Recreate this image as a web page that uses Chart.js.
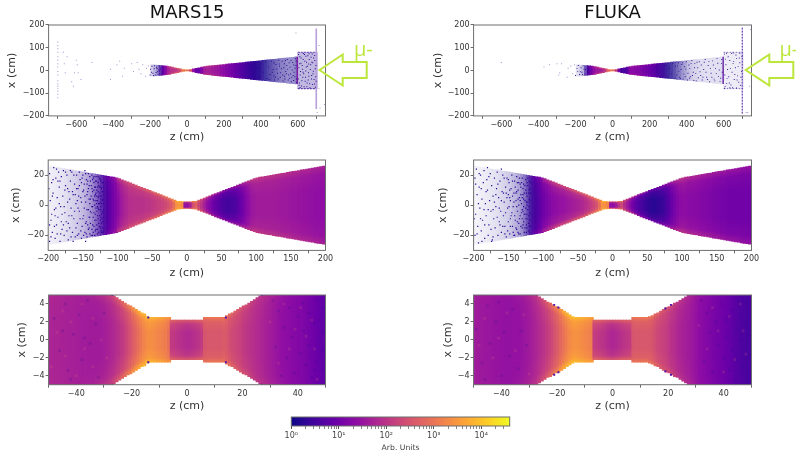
<!DOCTYPE html>
<html><head><meta charset="utf-8">
<script src="https://cdn.jsdelivr.net/npm/chart.js@4"></script>
<style>
html,body{margin:0;padding:0;background:#fff;width:796px;height:453px;overflow:hidden}
#stage{position:relative;width:796px;height:453px;overflow:hidden;filter:blur(0.4px)}
canvas{position:absolute}
svg{position:absolute;left:0;top:0}
</style></head><body><div id="stage"></div>
<script>
// ---------- data ----------
const panelTitles = ['MARS15','FLUKA'];
const xTitle = 'z (cm)', yTitle = 'x (cm)', barTitle = 'Arb. Units', beamLabel = 'μ-';

const zTickTop = [-600,-400,-200,0,200,400,600], xTickTop = [-200,-100,0,100,200];
const zTickMid = [-200,-150,-100,-50,0,50,100,150,200], xTickMid = [-20,0,20];
const zTickLow = [-40,-20,0,20,40], xTickLow = [-4,-2,0,2,4];
const barTicks = [1,2,3,4,5,6,7,8,9,10,20,30,40,50,60,70,80,90,100,200,300,400,500,600,700,800,900,1000,2000,3000,4000,5000,6000,7000,8000,9000,10000,20000,30000];
const barDecades = [1,10,100,1000,10000];
const barLabels = ['10⁰','10¹','10²','10³','10⁴'];
const barRange = [1,39800];

const plasmaStops = ['#0d0887','#41049d','#6a00a8','#8f0da4','#b12a90','#cc4778','#e16462','#f2844b','#fca636','#fcce25','#f0f921'];

// column centres (cm)
const zTop = [-742.5,-727.5,-712.5,-697.5,-682.5,-667.5,-652.5,-637.5,-622.5,-607.5,-592.5,-577.5,-562.5,-547.5,-532.5,-517.5,-502.5,-487.5,-472.5,-457.5,-442.5,-427.5,-412.5,-397.5,-382.5,-367.5,-352.5,-337.5,-322.5,-307.5,-292.5,-277.5,-262.5,-247.5,-232.5,-217.5,-202.5,-187.5,-172.5,-157.5,-142.5,-127.5,-112.5,-97.5,-82.5,-67.5,-52.5,-37.5,-22.5,-7.5,7.5,22.5,37.5,52.5,67.5,82.5,97.5,112.5,127.5,142.5,157.5,172.5,187.5,202.5,217.5,232.5,247.5,262.5,277.5,292.5,307.5,322.5,337.5,352.5,367.5,382.5,397.5,412.5,427.5,442.5,457.5,472.5,487.5,502.5,517.5,532.5,547.5,562.5,577.5,592.5,607.5,622.5,637.5,652.5,667.5,682.5,697.5,712.5,727.5,742.5];
const zMid = [-198,-194,-190,-186,-182,-178,-174,-170,-166,-162,-158,-154,-150,-146,-142,-138,-134,-130,-126,-122,-118,-114,-110,-106,-102,-98,-94,-90,-86,-82,-78,-74,-70,-66,-62,-58,-54,-50,-46,-42,-38,-34,-30,-26,-22,-18,-14,-10,-6,-2,2,6,10,14,18,22,26,30,34,38,42,46,50,54,58,62,66,70,74,78,82,86,90,94,98,102,106,110,114,118,122,126,130,134,138,142,146,150,154,158,162,166,170,174,178,182,186,190,194,198];
const zLow = [-49.5,-48.5,-47.5,-46.5,-45.5,-44.5,-43.5,-42.5,-41.5,-40.5,-39.5,-38.5,-37.5,-36.5,-35.5,-34.5,-33.5,-32.5,-31.5,-30.5,-29.5,-28.5,-27.5,-26.5,-25.5,-24.5,-23.5,-22.5,-21.5,-20.5,-19.5,-18.5,-17.5,-16.5,-15.5,-14.5,-13.5,-12.5,-11.5,-10.5,-9.5,-8.5,-7.5,-6.5,-5.5,-4.5,-3.5,-2.5,-1.5,-0.5,0.5,1.5,2.5,3.5,4.5,5.5,6.5,7.5,8.5,9.5,10.5,11.5,12.5,13.5,14.5,15.5,16.5,17.5,18.5,19.5,20.5,21.5,22.5,23.5,24.5,25.5,26.5,27.5,28.5,29.5,30.5,31.5,32.5,33.5,34.5,35.5,36.5,37.5,38.5,39.5,40.5,41.5,42.5,43.5,44.5,45.5,46.5,47.5,48.5,49.5];

// half widths of the filled envelope (cm)
const hwTop = [0,0,0,0,0,0,0,0,0,0,0,0,0,0,0,0,0,0,0,0,0,0,0,0,0,0,0,0,0,0,0,0,0,0,0,0,0,25,24,22.8,21.4,20.2,19,17.2,14.6,12,9.3,6.6,4,2.2,2.2,4,6.6,9.3,12,14.6,17.2,19,20.2,21.4,22.6,23.8,25,26.2,27.5,28.8,30,31.3,32.6,33.9,35.1,36.4,37.7,39,40.2,41.5,42.8,44,45.3,46.6,47.9,49.2,50.4,51.7,53,54.2,55.5,56.8,58.1,59.4,80,80,80,80,80,80,80,0,0,0];
const hwMid = [25.9,25.6,25.3,25,24.6,24.3,24,23.7,23.4,23,22.7,22.4,22.1,21.8,21.4,21.1,20.8,20.5,20.2,19.8,19.5,19.2,18.9,18.6,18.2,17.6,16.9,16.2,15.5,14.8,14.1,13.3,12.6,11.9,11.2,10.5,9.8,9.1,8.4,7.7,7,6.2,5.5,4.8,4.1,3.4,2.6,2.5,2.3,2.2,2.2,2.3,2.5,2.6,3.4,4.1,4.8,5.5,6.2,7,7.7,8.4,9.1,9.8,10.5,11.2,11.9,12.6,13.3,14.1,14.8,15.5,16.2,16.9,17.6,18.2,18.6,18.9,19.2,19.5,19.8,20.2,20.5,20.8,21.1,21.4,21.8,22.1,22.4,22.7,23,23.4,23.7,24,24.3,24.6,25,25.3,25.6,25.9];
const hwLowM = [5,5,5,5,5,5,5,5,5,5,5,5,5,5,5,5,5,5,5,5,5,5,5,4.9,4.7,4.5,4.3,4.1,3.9,3.8,3.6,3.4,3.2,3,2.9,2.6,2.5,2.5,2.5,2.5,2.5,2.5,2.5,2.5,2.2,2.2,2.2,2.2,2.2,2.2,2.2,2.2,2.2,2.2,2.2,2.2,2.5,2.5,2.5,2.5,2.5,2.5,2.5,2.5,2.7,2.9,3,3.2,3.4,3.6,3.8,3.9,4.1,4.3,4.5,4.7,4.9,5,5,5,5,5,5,5,5,5,5,5,5,5,5,5,5,5,5,5,5,5,5,5];
const hwLowF = [5,5,5,5,5,5,5,5,5,5,5,5,5,5,5,5,5,5,5,5,5,5,5,4.8,4.6,4.4,4.2,4.1,3.9,3.7,3.6,3.4,3.2,3,2.8,2.6,2.5,2.5,2.5,2.5,2.5,2.5,2.5,2.2,2.2,2.2,2.2,2.2,2.2,2.2,2.2,2.2,2.2,2.2,2.2,2.2,2.2,2.5,2.5,2.5,2.5,2.5,2.5,2.6,2.7,2.9,3,3.2,3.4,3.6,3.7,3.9,4.1,4.2,4.4,4.6,4.8,5,5,5,5,5,5,5,5,5,5,5,5,5,5,5,5,5,5,5,5,5,5,5];

// log10(counts) on the axis of each column
const logTopM = [0,0,0,0,0,0,0,0,0,0,0,0,0,0,0,0,0,0,0,0,0,0,0,0,0,0,0,0,0,0,0,0,0,0,0,0,0,.1,.15,.2,.4,.8,1.3,1.7,1.95,2,2.1,2.3,2.9,3,2.9,2.4,1.4,.9,.9,1.2,1.6,1.7,1.65,1.6,1.55,1.5,1.4,1.3,1.2,1.1,1,.9,.8,.7,.6,.5,.4,.35,.3,.25,.2,.2,.1,.1,.1,.1,.1,.1,.1,.1,.1,.1,.1,.1,.15,.15,.15,.15,.15,.15,.15,0,0,0];
const rimTopM = [0,0,0,0,0,0,0,0,0,0,0,0,0,0,0,0,0,0,0,0,0,0,0,0,0,0,0,0,0,0,0,0,0,0,0,0,0,.1,.15,.2,.4,.9,1.5,2,2.4,2.5,2.6,2.8,3.2,3.3,3.2,2.7,1.7,1.2,1.2,1.5,1.9,2,1.95,1.85,1.8,1.7,1.6,1.5,1.4,1.3,1.15,1,.9,.8,.7,.6,.5,.4,.35,.3,.25,.2,.1,.1,.1,.1,.1,.1,.1,.1,.1,.1,.1,.1,.3,.3,.3,.3,.3,.3,.3,0,0,0];
const densTopM = [0,0,0,0,0,0,0,0,0,0,0,0,0,0,0,0,0,0,0,0,0,0,0,0,0,0,0,0,0,0,0,0,0,0,0,0,0,.2,.3,.45,.8,1,1,1,1,1,1,1,1,1,1,1,1,1,1,1,1,1,1,1,1,1,1,1,1,1,1,1,1,1,1,1,1,1,1,.97,.95,.88,.82,.75,.7,.65,.6,.55,.5,.5,.45,.45,.45,.5,.28,.28,.28,.28,.28,.28,.28,0,0,0];
const logTopF = [0,0,0,0,0,0,0,0,0,0,0,0,0,0,0,0,0,0,0,0,0,0,0,0,0,0,0,0,0,0,0,0,0,0,0,0,0,.05,.05,.1,.3,.6,1,1.35,1.55,1.6,1.7,2,2.7,3,2.8,2,1,.5,.5,.7,1.25,1.3,1.25,1.2,1.15,1.05,1,.9,.8,.7,.55,.45,.35,.25,.15,.12,.1,.1,.1,.1,.1,.1,.1,.1,.1,.1,.1,.1,.1,.1,.1,.1,.1,.1,.1,.1,.1,.1,.1,.1,.1,0,0,0];
const rimTopF = [0,0,0,0,0,0,0,0,0,0,0,0,0,0,0,0,0,0,0,0,0,0,0,0,0,0,0,0,0,0,0,0,0,0,0,0,0,.05,.05,.1,.3,.7,1.2,1.7,2,2.1,2.2,2.5,3,3.3,3.1,2.4,1.3,.8,.8,1,1.5,1.6,1.55,1.5,1.4,1.3,1.2,1.1,1,.9,.7,.6,.45,.3,.2,.15,.1,.1,.1,.1,.1,.1,.1,.1,.1,.1,.1,.1,.1,.1,.1,.1,.1,.1,.1,.1,.1,.1,.1,.1,.1,0,0,0];
const densTopF = [0,0,0,0,0,0,0,0,0,0,0,0,0,0,0,0,0,0,0,0,0,0,0,0,0,0,0,0,0,0,0,0,0,0,0,0,0,.12,.18,.28,.7,1,1,1,1,1,1,1,1,1,1,1,1,1,1,1,1,1,1,1,1,1,1,1,1,1,1,.97,.95,.9,.85,.78,.7,.6,.52,.42,.36,.27,.22,.18,.17,.14,.14,.13,.13,.13,.13,.13,.13,.14,.08,.08,.08,.08,.08,.08,.08,0,0,0];

const logMidM = [.1,.1,.1,.1,.12,.12,.15,.15,.18,.2,.2,.22,.25,.25,.3,.3,.35,.4,.45,.5,.55,.65,.8,1,1.15,1.35,1.55,1.7,1.8,1.9,1.92,1.95,1.95,1.95,1.95,2,2,2.05,2.1,2.15,2.2,2.25,2.35,2.45,2.6,2.9,3.4,3.5,3.3,1.45,1.45,1.7,2.4,2.7,2.3,2,1.7,1.4,1.2,1,.85,.75,.65,.55,.5,.5,.55,.6,.7,.85,1,1.2,1.35,1.5,1.55,1.6,1.6,1.6,1.6,1.6,1.6,1.6,1.58,1.58,1.55,1.55,1.55,1.52,1.5,1.5,1.48,1.48,1.45,1.45,1.42,1.42,1.4,1.4,1.38,1.38];
const rimMidM = [.1,.1,.1,.1,.12,.12,.15,.15,.18,.2,.2,.22,.25,.25,.3,.3,.35,.4,.45,.5,.7,.9,1.1,1.3,1.5,2,2.1,2.2,2.3,2.4,2.4,2.45,2.5,2.5,2.55,2.6,2.65,2.7,2.75,2.8,2.85,2.9,3,3.1,3.25,3.45,3.8,3.8,3.6,2.5,2.5,2.8,3.2,3.2,2.8,2.6,2.4,2.2,2,1.85,1.7,1.6,1.5,1.4,1.4,1.4,1.45,1.5,1.55,1.6,1.7,1.8,1.9,2,2.1,2.1,2.05,2.05,2,2,2,2,1.95,1.95,1.95,1.9,1.9,1.9,1.85,1.85,1.85,1.8,1.8,1.8,1.8,1.75,1.75,1.75,1.7,1.7];
const densMidM = [.07,.07,.08,.09,.1,.11,.13,.15,.17,.19,.21,.24,.27,.31,.36,.42,.5,.6,.72,.85,.95,1,1,1,1,1,1,1,1,1,1,1,1,1,1,1,1,1,1,1,1,1,1,1,1,1,1,1,1,1,1,1,1,1,1,1,1,1,1,1,1,1,1,1,1,1,1,1,1,1,1,1,1,1,1,1,1,1,1,1,1,1,1,1,1,1,1,1,1,1,1,1,1,1,1,1,1,1,1,1];
const logMidF = [.05,.05,.05,.05,.05,.05,.05,.05,.05,.05,.05,.08,.08,.1,.1,.12,.15,.2,.25,.3,.35,.45,.55,.7,.85,1,1.1,1.2,1.3,1.35,1.4,1.45,1.45,1.5,1.55,1.6,1.65,1.7,1.75,1.8,1.9,2,2.15,2.3,2.5,2.9,3.4,3.4,3.2,1.4,1.4,1.6,2,2.3,1.9,1.6,1.3,1,.8,.65,.55,.45,.35,.3,.25,.25,.3,.35,.4,.55,.7,.9,1.05,1.2,1.3,1.35,1.35,1.32,1.3,1.3,1.28,1.25,1.22,1.2,1.18,1.15,1.12,1.1,1.08,1.05,1.05,1.02,1,1,1,1,1,1,1,1];
const rimMidF = [.05,.05,.05,.05,.05,.05,.05,.05,.05,.05,.05,.08,.08,.1,.1,.12,.15,.2,.25,.3,.5,.7,.9,1.1,1.3,1.7,1.8,1.95,2.05,2.15,2.2,2.25,2.3,2.35,2.4,2.45,2.5,2.55,2.6,2.65,2.7,2.8,2.9,3,3.2,3.4,3.8,3.8,3.5,2.4,2.4,2.7,3,3,2.6,2.3,2.1,1.9,1.7,1.5,1.35,1.25,1.15,1.05,1,1,1.05,1.15,1.25,1.35,1.45,1.6,1.7,1.85,1.95,2,1.9,1.85,1.8,1.8,1.75,1.75,1.7,1.7,1.65,1.65,1.6,1.6,1.6,1.55,1.55,1.5,1.5,1.5,1.5,1.5,1.45,1.45,1.45,1.45];
const densMidF = [.05,.05,.06,.07,.08,.09,.1,.11,.12,.14,.16,.18,.2,.23,.27,.31,.36,.44,.55,.7,.88,.97,1,1,1,1,1,1,1,1,1,1,1,1,1,1,1,1,1,1,1,1,1,1,1,1,1,1,1,1,1,1,1,1,1,1,1,1,1,1,1,1,1,1,1,1,1,1,1,1,1,1,1,1,1,1,1,1,1,1,1,1,1,1,1,1,1,1,1,1,1,1,1,1,1,1,1,1,1,1];

const logLowM = [1.75,1.75,1.73,1.73,1.72,1.7,1.7,1.68,1.68,1.66,1.65,1.64,1.62,1.62,1.6,1.6,1.6,1.6,1.6,1.62,1.65,1.7,1.75,1.8,1.88,1.95,2.05,2.15,2.3,2.45,2.6,2.75,2.9,3.05,3.2,3.3,3.35,3.35,3.3,3.25,3.2,3.15,3.1,2.95,2.1,2.05,2,1.95,1.9,1.85,1.82,1.85,1.9,1.95,2,2.1,2.5,2.55,2.55,2.55,2.55,2.55,2.55,2.6,2.55,2.45,2.35,2.3,2.25,2.2,2.1,2.05,2,1.95,1.9,1.85,1.8,1.75,1.7,1.65,1.6,1.55,1.5,1.45,1.4,1.38,1.35,1.3,1.28,1.25,1.2,1.2,1.15,1.1,1.05,1,.95,.9,.85,.8];
const rimLowM = [1.8,1.8,1.78,1.76,1.75,1.74,1.72,1.72,1.7,1.7,1.68,1.68,1.68,1.7,1.7,1.72,1.72,1.78,1.82,1.88,1.95,2.05,2.15,2.3,2.45,2.6,2.75,2.9,3.05,3.2,3.4,3.55,3.7,3.8,3.85,3.9,3.9,3.85,3.8,3.75,3.7,3.65,3.55,3.45,2.75,2.7,2.65,2.6,2.6,2.55,2.55,2.6,2.6,2.65,2.7,2.75,3,3,3.05,3.05,3.05,3.05,3.05,3.05,3,2.9,2.8,2.7,2.6,2.55,2.45,2.4,2.3,2.2,2.1,2.05,2,1.95,1.85,1.8,1.72,1.68,1.6,1.55,1.5,1.45,1.4,1.35,1.3,1.28,1.25,1.22,1.18,1.12,1.08,1.02,.98,.92,.88,.82];
const logLowF = [1.6,1.58,1.56,1.55,1.53,1.52,1.5,1.48,1.47,1.46,1.45,1.44,1.44,1.44,1.45,1.45,1.45,1.48,1.52,1.55,1.6,1.68,1.75,1.82,1.9,2,2.1,2.2,2.35,2.5,2.65,2.8,2.95,3.1,3.25,3.35,3.4,3.4,3.35,3.3,3.25,3.2,3.15,2.15,2.1,2.05,2,1.95,1.85,1.8,1.78,1.82,1.88,1.95,2,2.05,2.1,2.5,2.55,2.55,2.55,2.55,2.55,2.55,2.5,2.4,2.3,2.25,2.2,2.15,2.05,1.95,1.9,1.8,1.75,1.7,1.65,1.6,1.55,1.5,1.42,1.35,1.3,1.25,1.2,1.15,1.1,1.05,1.02,1,.95,.9,.85,.78,.72,.68,.62,.6,.55,.55];
const rimLowF = [1.65,1.62,1.6,1.58,1.56,1.55,1.54,1.52,1.5,1.5,1.48,1.48,1.48,1.48,1.5,1.52,1.55,1.6,1.65,1.72,1.8,1.9,2,2.15,2.3,2.45,2.6,2.8,2.95,3.1,3.3,3.5,3.7,3.85,3.9,3.95,3.95,3.9,3.85,3.8,3.75,3.7,3.6,2.75,2.75,2.7,2.65,2.6,2.55,2.5,2.5,2.55,2.6,2.65,2.7,2.7,2.75,3,3.05,3.05,3.05,3.05,3.05,3,3,2.85,2.75,2.65,2.55,2.5,2.4,2.3,2.2,2.1,2,1.95,1.85,1.8,1.7,1.6,1.5,1.42,1.35,1.3,1.25,1.2,1.15,1.1,1.05,1.02,.98,.92,.88,.82,.75,.7,.65,.62,.58,.58];
const densLow = [1,1,1,1,1,1,1,1,1,1,1,1,1,1,1,1,1,1,1,1,1,1,1,1,1,1,1,1,1,1,1,1,1,1,1,1,1,1,1,1,1,1,1,1,1,1,1,1,1,1,1,1,1,1,1,1,1,1,1,1,1,1,1,1,1,1,1,1,1,1,1,1,1,1,1,1,1,1,1,1,1,1,1,1,1,1,1,1,1,1,1,1,1,1,1,1,1,1,1,1];

// individual sparse hits [z, x]
const paleTopM = [[-700,125],[-700,110],[-700,95],[-700,80],[-700,60],[-700,45],[-700,30],[-700,15],[-700,-5],[-700,-20],[-700,-45],[-700,-60],[-700,-70],[-700,-80],[-700,-90],[-700,-105],[-700,-120],[-670,80],[-650,60],[-665,30],[-600,45],[-595,25],[-610,-10],[-590,-10],[-660,-10],[-575,-40],[-625,-50],[-615,-70],[-515,35],[-415,5],[-415,-40],[-380,25],[-365,40],[-350,-25],[-340,10],[-300,30],[-290,-5],[-270,35],[-260,5],[-250,-15],[-240,25],[-225,-25],[-220,10],[-210,20],[590,165],[715,110],[715,-80],[720,-165],[705,-185],[750,185],[745,-150]];
const hitsTopM = [[-200,-20],[-198,5],[-190,18],[-185,-12],[-178,8],[-172,-20],[-165,14],[-160,-6],[-152,20],[-148,-15],[-145,5],[-193,-8],[-181,-22],[-176,21],[-168,-9],[-162,9],[-157,-17],[-155,2],[-150,-3],
[352,30],[365,-22],[378,12],[392,-30],[405,28],[412,-8],[425,38],[433,-35],[441,15],[450,-18],[458,40],[466,4],[474,-42],[482,26],[490,-12],[497,45],[505,-30],[512,8],[520,-46],[527,30],[535,-5],[543,48],[550,-20],[558,14],[565,-50],[572,35],[580,-8],[587,52],[592,-38],[590,22],[556,-34],[528,-26],[501,18],[470,-24],[445,-40],[575,-22],[545,5],
[462,-8],[471,33],[479,-30],[486,6],[494,-38],[499,28],[507,-10],[515,40],[518,-20],[524,12],[530,-38],[533,44],[539,-14],[541,22],[548,-42],[553,34],[561,-16],[563,44],[568,-30],[570,2],[577,-44],[578,24],[584,-28],[585,10],[591,40],[593,-52],
[604,70],[607,-65],[610,30],[613,-20],[618,55],[622,-45],[626,5],[630,75],[634,-72],[638,40],[642,-30],[646,15],[650,-55],[654,65],[658,-10],[662,48],[666,-76],[670,25],[674,-38],[678,72],[682,-15],[686,55],[690,-60],[694,8],[697,-28],[612,-75],[628,-8],[644,62],[660,-25],[676,36],[692,44],
[603,-38],[606,12],[609,-55],[611,60],[615,-5],[617,32],[620,-68],[624,22],[627,-30],[629,48],[632,-15],[636,70],[640,-48],[643,-2],[647,36],[649,-72],[652,18],[656,-42],[659,28],[661,74],[664,-58],[668,4],[672,58],[675,-22],[679,-62],[681,34],[684,-4],[688,-40],[691,66],[695,-74],[698,22],[699,-48]];
const paleTopF = [[-600,35],[-370,15],[-340,25],[-300,30],[-285,-10],[-275,30],[-290,-20],[-245,-30],[-240,10],[-225,20],[-215,-15],[-205,25],[721,-185],[730,-185],[745,180],[740,-70]];
const hitsTopF = [[-200,-22],[-192,8],[-185,22],[-178,-18],[-170,12],[-165,-8],[-158,20],[-150,-16],[-146,4],[-188,-4],[-174,-6],[-162,-18],[-155,6],
[270,-25],[282,22],[295,-30],[305,10],[318,-15],[325,32],[338,-34],[350,20],[358,-5],[366,-36],[378,34],[386,-16],[395,6],[404,-42],[412,24],[420,-28],[428,44],[436,-8],[444,30],[452,-46],[460,12],[468,38],[476,-22],[484,-42],[492,4],[500,48],[508,-30],[516,22],[524,-50],[532,-12],[540,42],[548,-38],[556,8],[564,52],[572,-26],[580,-48],[588,30],[592,-8],
[340,18],[347,-20],[355,34],[362,-30],[370,4],[374,26],[381,-38],[389,16],[392,-28],[398,38],[407,-12],[415,-34],[417,8],[424,30],[431,-22],[439,-44],[442,12],[449,-14],[456,36],[463,-32],[472,-6],[479,24],[488,-30],[495,36],[504,-8],[512,-40],[520,40],[528,8],[536,-30],[544,24],[552,-46],[560,-14],[568,32],[576,2],[584,-34],[590,48],
[604,72],[608,-70],[612,25],[618,-35],[624,60],[630,-55],[636,8],[642,75],[648,-76],[654,40],[660,-18],[666,68],[672,-42],[678,18],[684,55],[690,-65],[696,-4],[615,76],[633,-76],[651,77],[669,-77],[687,76],[605,-78],
[606,-20],[610,50],[616,-58],[621,4],[627,-28],[633,44],[639,-64],[645,-8],[651,30],[657,-40],[663,12],[669,52],[675,-24],[681,-52],[687,34],[693,-30],[698,62]];
const hitsMidM = [[-198,21],[-198,-24],[-197,3],[-196,-10],[-195,15],[-194,-18],[-193,8],[-192,25],[-191,-3],[-190,-22],[-189,18],[-188,-13],[-187,5],[-186,-8],[-185,22],[-184,12],[-183,-24],[-182,-1],[-181,19],[-180,-16],[-179,6],[-178,23],[-177,-20],[-176,-5],[-175,13],[-174,-11],[-173,20],[-172,2],[-171,-23],[-170,9],[-169,-15],[-168,16],[-167,-2],[-166,22],[-165,-18],[-164,7],[-163,-9],[-162,14],[-161,-21],[-160,1],[-159,20],[-158,-12],[-157,11],[-156,-19],[-155,-4],[-154,17],[-153,5],[-152,-22],[-151,-14],[-150,9],[-150,20],[-149,-7],[-148,14],[-147,-18],[-146,2],[-146,21],[-145,-11],[-144,7],[-144,-21],[-143,16],[-142,-3],[-142,11],[-141,-15],[-140,19],[-140,-8],[-139,4],[-138,-20],[-138,13],[-137,-1],[-136,9],[-136,-13],[-135,18],[-135,-18],[-134,-5],[-134,3],[-133,12],[-133,-10],[-132,7],[-132,16],[-131,-16],[-131,-2],[-130,1],[-130,10],[-129,-7],[-129,-19],[-128,15],[-128,5],[-127,-12],[-127,-3],[-126,8],[-126,18],[-125,-15],[-125,2],[-124,-8],[-124,12],[-123,-18],[-123,6],[-122,-4],[-122,15],[-121,9],[-121,-11],[-120,1],[-120,-17],[-195,-6],[-188,24],[-182,-19],[-176,10],[-170,-7],[-164,-24],[-158,3],[-152,15],[-146,-24],[-141,4],[-137,20],[-133,-20],[-129,-1],
[-199,11],[-196,-21],[-193,17],[-191,-14],[-189,-2],[-187,-19],[-184,1],[-183,16],[-180,-6],[-178,-13],[-175,22],[-173,-17],[-172,11],[-169,4],[-167,-21],[-165,9],[-163,20],[-162,-4],[-160,-15],[-159,11],[-157,-2],[-156,6],[-155,22],[-154,-9],[-153,-17],[-152,2],[-151,18],[-149,-20],[-149,10],[-148,-2],[-147,6],[-146,-12],[-145,17],[-145,-19],[-144,-3],[-143,9],[-143,-13],[-142,21],[-141,-8],[-141,13],[-140,1],[-140,-19],[-139,16],[-139,-12],[-138,6],[-138,-5],[-137,11],[-137,-16],[-136,-1],[-136,17],[-135,4],[-135,-8],[-134,-14],[-134,10],[-134,19],[-133,0],[-133,6],[-132,-6],[-132,-17],[-132,12],[-131,3],[-131,-10],[-131,19],[-130,-4],[-130,-13],[-130,6],[-130,16],[-129,-16],[-129,3],[-129,12],[-128,-9],[-128,-2],[-128,9],[-128,19],[-127,1],[-127,-18],[-127,13],[-127,6],[-126,-7],[-126,-14],[-126,1],[-126,12],[-125,-10],[-125,6],[-125,17],[-125,-3],[-124,-17],[-124,-1],[-124,4],[-124,16],[-123,-12],[-123,-6],[-123,1],[-123,11],[-122,-15],[-122,-9],[-122,3],[-122,9],[-121,-5],[-121,-18],[-121,4],[-121,15],[-120,-8],[-120,-3],[-120,7],[-120,12],
[-198,-13],[-194,6],[-190,-7],[-186,16],[-181,-11],[-177,-1],[-171,-12],[-168,23],[-166,-7],[-161,7],[-158,-20],[-155,13],[-150,-9],[-147,23],[-144,14],[-142,-16],[-139,-4],[-136,-20],[-134,15],[-131,8]];
const hitsMidF = [[-198,18],[-198,-20],[-197,-6],[-196,24],[-195,7],[-194,-14],[-193,-25],[-192,12],[-191,-2],[-190,20],[-189,-17],[-188,4],[-187,-10],[-186,15],[-185,23],[-184,-22],[-183,1],[-182,-7],[-181,17],[-180,10],[-179,-20],[-178,-13],[-177,3],[-176,21],[-175,-4],[-174,13],[-173,-23],[-172,6],[-171,-9],[-170,18],[-169,-15],[-168,-1],[-167,11],[-166,22],[-165,-20],[-164,5],[-163,-11],[-162,16],[-161,-4],[-160,-18],[-159,9],[-158,20],[-157,-7],[-156,2],[-155,-14],[-154,12],[-153,-21],[-152,18],[-151,-2],[-150,7],[-150,-11],[-149,15],[-148,-19],[-147,3],[-146,-7],[-146,11],[-145,20],[-144,-14],[-143,-1],[-142,8],[-142,-20],[-141,16],[-140,-10],[-139,3],[-138,19],[-138,-16],[-137,-4],[-136,10],[-135,-12],[-135,15],[-134,5],[-133,-19],[-133,-7],[-132,12],[-131,1],[-130,-15],[-130,18],[-129,7],[-129,-4],[-128,-11],[-128,14],[-127,-18],[-126,3],[-126,-6],[-125,10],[-125,17],[-124,-13],[-123,0],[-123,6],[-122,-9],[-122,13],[-121,-17],[-120,4],[-119,-5],[-119,11],[-190,-9],[-180,25],[-172,-3],[-160,24],[-148,5],
[-199,-9],[-195,-19],[-192,21],[-188,-24],[-185,-3],[-182,9],[-178,19],[-175,-16],[-172,-21],[-168,7],[-165,14],[-163,-2],[-160,3],[-158,-14],[-156,18],[-154,-5],[-153,8],[-151,-17],[-149,-1],[-148,10],[-147,-9],[-145,-5],[-144,16],[-143,-18],[-142,2],[-141,-7],[-140,12],[-139,-15],[-139,8],[-138,-1],[-137,15],[-137,-11],[-136,-18],[-136,4],[-135,0],[-134,-9],[-134,18],[-133,3],[-132,-14],[-132,7],[-131,-5],[-131,15],[-130,-9],[-130,5],[-129,-13],[-129,11],[-128,-1],[-128,4],[-127,8],[-127,-6],[-126,-15],[-126,13],[-125,-2],[-125,-9],[-124,2],[-124,8],[-124,-18],[-123,-6],[-123,-15],[-123,15],[-122,-3],[-122,2],[-122,18],[-121,-12],[-121,-7],[-121,8],[-120,-14],[-120,-1],[-120,10],[-120,16],[-119,-18],[-119,-10],[-119,3],[-118,-14],[-118,-6],[-118,8],[-118,15],
[-197,14],[-193,1],[-189,11],[-184,-13],[-179,-3],[-174,-24],[-170,2],[-166,-8],[-162,-13],[-157,8],[-155,-19],[-152,5],[-150,17],[-147,-14],[-144,6],[-141,-20],[-138,9],[-135,-19],[-133,14],[-130,-3]];
const hitsLowM = [[-27,5],[-27,-5],[-14,2.5],[-14,-2.5],[14,2.5],[14,-2.5],[27,5],[27,-5]];
const hitsLowF = [[-19.5,3.6],[-19.5,-3.6],[-21,3.9],[-21,-3.9],[19,3.5],[19,-3.5],[21,3.9],[21,-3.9]];
const darkCellsLowM = [[49,3.6],[49,0.9],[49,-1.2],[49,-3.2],[47,4.4],[47,-2.4],[46,1.8],[45,-4.2],[44,3],[44,-0.6],[43,-2.8],[42,4.1],[42,1],[41,-1.5],[40,2.6],[39,-3.7],[38,0.3],[37,3.6],[36,-2],[48,2.2],[48,-0.2],[46,-3.4],[35,1.4],[34,-4],[33,3.2],[32,-0.8],[31,4.4],[-48,2.4],[-46,-1.2],[-44,4],[-43,-3.4],[-41,0.6],[-39,2.8],[-38,-2.2],[-36,4.4],[-35,-0.4],[-33,1.8],[-32,-4.2],[-30,3],[-45,1],[-42,-4.4],[-37,0.2]];
const lightCellsLowM = [[-49,-3],[-47,0.8],[-45,3.2],[-44,-1.8],[-42,2],[-40,-4],[-38,4],[-37,-1],[-34,2.4],[-34,-3],[-31,0],[-29,-2],[30,2],[33,-2.6],[35,4],[37,-1],[39,1.2],[41,3.6],[43,0.4],[45,2.2],[46,-1],[47,-4.4]];
const darkCellsLowF = [[49,3],[49,0.6],[49,-1.8],[49,-4],[48,4.2],[48,1.6],[47,-0.8],[47,-3],[46,2.8],[46,0],[45,-2.2],[45,4.4],[44,1],[44,-4.4],[43,3.4],[43,-1.2],[42,-3.4],[41,0.4],[41,2.2],[40,-2],[39,4],[38,-0.6],[37,2],[36,-3.6],[35,0.8],[34,3],[33,-2.4],[32,4.4],[-49,1.2],[-47,-2.6],[-45,3.8],[-44,-0.4],[-42,2],[-40,-4],[-39,0.8],[-37,-1.8],[-36,3.4],[-34,-3.2],[-33,1],[-31,-0.6],[-46,-4.4],[-41,4.2]];
const lightCellsLowF = [[-48,-0.6],[-46,2.4],[-43,-2],[-41,0.2],[-38,3],[-35,-1.2],[-32,2.8],[-30,-3.8],[31,1.6],[34,-1],[36,3.6],[38,1],[40,-3.6],[42,2.6],[44,-2.2],[46,4],[47,1],[48,-1.6]];

// straight detector features [z1, x1, z2, x2]
const segsTopM = [[700,-170,700,185],[597,-60,597,60],[600,80,700,80],[600,-80,700,-80]];
const segsTopF = [[700,-190,700,190],[597,-60,597,60],[600,80,700,80],[600,-80,700,-80]];

// ---------- drawing ----------
const FONT = "'DejaVu Sans', sans-serif";
const stage = document.getElementById('stage');
const hex = h => [1,3,5].map(i => parseInt(h.substr(i,2),16));
const plasmaRgb = plasmaStops.map(hex);
const logMax = Math.log10(barRange[1]);
function colour(log, dens){
  const t = Math.min(1, Math.max(0, log/logMax)) * (plasmaRgb.length-1);
  const i = Math.min(plasmaRgb.length-2, Math.floor(t)), f = t-i;
  const c = plasmaRgb[i].map((v,k) => v + (plasmaRgb[i+1][k]-v)*f);
  const d = dens === undefined ? 1 : dens;
  return 'rgb(' + c.map(v => Math.round(255 + (v-255)*d)).join(',') + ')';
}
const frame = { id:'frame', afterDraw(ch){
  const a = ch.chartArea, c = ch.ctx;
  c.save(); c.strokeStyle='#6e6e6e'; c.lineWidth=1;
  c.strokeRect(a.left,a.top,a.right-a.left,a.bottom-a.top); c.restore();
}};
function axis(min,max,ticks,title,fit){
  return {
    type:'linear', min, max, offset:false,
    afterBuildTicks: s => { s.ticks = ticks.map(v => ({value:v})); },
    afterFit: fit,
    grid:{drawOnChartArea:false,drawTicks:true,tickLength:3,tickColor:'#444',tickWidth:0.8},
    border:{display:false},
    ticks:{autoSkip:false,maxRotation:0,padding:1,color:'#333',font:{family:FONT,size:8},
      callback:v => String(v).replace('-','−')},
    title:{display:true,text:title,color:'#333',padding:0,font:{family:FONT,size:11,lineHeight:1.2}}
  };
}
function panel(p){
  const cv = document.createElement('canvas');
  const left = p.labelX - 6.6, top = p.title ? 0 : p.plot[1]-6;
  const W = p.plot[2] + 16 - left, H = p.plot[3] + p.xBand - top;
  cv.width = Math.ceil(W); cv.height = Math.ceil(H);
  cv.style.width = cv.width+'px'; cv.style.height = cv.height+'px';
  cv.style.left = left+'px'; cv.style.top = top+'px';
  stage.appendChild(cv);
  const colW = (p.plot[2]-p.plot[0])/p.z.length + 0.7;
  const datasets = [{
    type:'bar', order:3, barThickness:colW, borderWidth:0,
    data:p.z.map((z,i) => ({x:z,y:[-p.hw[i],p.hw[i]]})),
    backgroundColor(ctx){
      if(ctx.type!=='data') return '#fff';
      const i = ctx.dataIndex, y = ctx.chart.scales.y;
      if(!y) return '#fff';
      const d = p.dens[i], hw = p.hw[i], c0 = p.log[i], r = p.rim[i];
      if(!hw) return 'rgba(0,0,0,0)';
      const y0 = y.getPixelForValue(hw), y1 = y.getPixelForValue(-hw);
      if(!isFinite(y0) || !isFinite(y1)) return '#fff';
      const g = ctx.chart.ctx.createLinearGradient(0,y0,0,y1);
      const mid = c0 + (r-c0)*0.3;
      g.addColorStop(0,colour(r,d)); g.addColorStop(0.1,colour(mid,d)); g.addColorStop(0.32,colour(c0,d));
      g.addColorStop(0.68,colour(c0,d)); g.addColorStop(0.9,colour(mid,d)); g.addColorStop(1,colour(r,d));
      return g;
    }
  }];
  (p.segs||[]).forEach((s,i) => datasets.push({
    type:'line', order:2, data:[{x:s[0],y:s[1]},{x:s[2],y:s[3]}], pointRadius:0, fill:false,
    borderColor:p.segStyle[i].c, borderWidth:p.segStyle[i].w, borderDash:p.segStyle[i].d||[]
  }));
  (p.hits||[]).forEach(h => datasets.push({
    type:'scatter', order:1, data:h.list.map(q => ({x:q[0],y:q[1]})), pointStyle:'rect',
    pointRadius:h.r, pointBorderWidth:0, borderWidth:0, backgroundColor:h.c, pointBackgroundColor:h.c
  }));
  const yw = p.plot[0]-left, xh = p.xBand;
  new Chart(cv,{
    data:{datasets},
    options:{
      responsive:false, animation:false, events:[],
      layout:{padding:{left:0,right:15.5,top:p.title?0:6,bottom:0}},
      plugins:{legend:{display:false},tooltip:{enabled:false},
        title:{display:!!p.title,text:p.title||'',color:'#111',fullSize:false,
          font:{family:FONT,size:18,weight:'normal',lineHeight:1.2},padding:{top:3,bottom:0.4}}},
      scales:{
        x:axis(p.zr[0],p.zr[1],p.zt,xTitle,s=>{s.height=xh;}),
        y:axis(p.xr[0],p.xr[1],p.xt,yTitle,s=>{s.width=yw;})
      }
    },
    plugins:[frame]
  });
}
const indigo='#2c0896', pale='rgba(90,40,170,0.5)', cellDark='rgba(50,8,150,0.2)', cellLight='rgba(235,110,120,0.18)', rimDot='#5212a6';
const colL=[48.3,324.5], colR=[474,750.7];
const rowA=[25,115], rowB=[159.8,249.4], rowC=[295.3,385];
const styM=[{c:'#b79fdc',w:1.6},{c:'#7a1ea6',w:1.6},{c:'rgba(50,10,150,.7)',w:1.2,d:[2,1]},{c:'rgba(50,10,150,.7)',w:1.2,d:[2,1]}];
const styF=[{c:'#4a18a0',w:1,d:[2,1]},{c:'#5a12a0',w:1.3},{c:'rgba(50,10,150,.55)',w:1,d:[1.5,1.5]},{c:'rgba(50,10,150,.55)',w:1,d:[1.5,1.5]}];
panel({title:panelTitles[0],labelX:12.3,plot:[colL[0],rowA[0],colL[1],rowA[1]],xBand:28.1,z:zTop,hw:hwTop,log:logTopM,rim:rimTopM,dens:densTopM,zr:[-750,750],xr:[-200,200],zt:zTickTop,xt:xTickTop,segs:segsTopM,segStyle:styM,hits:[{list:paleTopM,r:0.7,c:pale},{list:hitsTopM,r:0.7,c:indigo}]});
panel({title:panelTitles[1],labelX:439,plot:[colR[0],rowA[0],colR[1],rowA[1]],xBand:28.1,z:zTop,hw:hwTop,log:logTopF,rim:rimTopF,dens:densTopF,zr:[-750,750],xr:[-200,200],zt:zTickTop,xt:xTickTop,segs:segsTopF,segStyle:styF,hits:[{list:paleTopF,r:0.7,c:pale},{list:hitsTopF,r:0.65,c:indigo}]});
panel({labelX:16.7,plot:[colL[0],rowB[0],colL[1],rowB[1]],xBand:29.6,z:zMid,hw:hwMid,log:logMidM,rim:rimMidM,dens:densMidM,zr:[-200,200],xr:[-30,30],zt:zTickMid,xt:xTickMid,hits:[{list:hitsMidM,r:0.85,c:indigo}]});
panel({labelX:444,plot:[colR[0],rowB[0],colR[1],rowB[1]],xBand:29.6,z:zMid,hw:hwMid,log:logMidF,rim:rimMidF,dens:densMidF,zr:[-200,200],xr:[-30,30],zt:zTickMid,xt:xTickMid,hits:[{list:hitsMidF,r:0.85,c:indigo}]});
panel({labelX:22.3,plot:[colL[0],rowC[0],colL[1],rowC[1]],xBand:28.3,z:zLow,hw:hwLowM,log:logLowM,rim:rimLowM,dens:densLow,zr:[-50,50],xr:[-5,5],zt:zTickLow,xt:xTickLow,hits:[{list:hitsLowM,r:1.4,c:rimDot},{list:darkCellsLowM,r:1.9,c:cellDark},{list:lightCellsLowM,r:1.9,c:cellLight}]});
panel({labelX:449,plot:[colR[0],rowC[0],colR[1],rowC[1]],xBand:28.3,z:zLow,hw:hwLowF,log:logLowF,rim:rimLowF,dens:densLow,zr:[-50,50],xr:[-5,5],zt:zTickLow,xt:xTickLow,hits:[{list:hitsLowF,r:1.4,c:rimDot},{list:darkCellsLowF,r:1.9,c:cellDark},{list:lightCellsLowF,r:1.9,c:cellLight}]});

// colour bar
(function(){
  const cv=document.createElement('canvas');
  cv.width=260; cv.height=48; cv.style.left='270px'; cv.style.top='405px';
  cv.style.width='260px'; cv.style.height='48px'; stage.appendChild(cv);
  new Chart(cv,{
    type:'bar',
    data:{labels:[''],datasets:[{data:[barRange],borderWidth:0,barPercentage:1,categoryPercentage:1,
      backgroundColor(ctx){
        const a=ctx.chart.chartArea; if(!a) return '#000';
        const g=ctx.chart.ctx.createLinearGradient(a.left,0,a.right,0);
        plasmaStops.forEach((h,i)=>g.addColorStop(i/(plasmaStops.length-1),h));
        return g;
      }}]},
    options:{
      indexAxis:'y',responsive:false,animation:false,events:[],
      layout:{padding:{left:21.3,right:20.3,top:12,bottom:0}},
      plugins:{legend:{display:false},tooltip:{enabled:false}},
      scales:{
        y:{display:false},
        x:{type:'logarithmic',min:barRange[0],max:barRange[1],
          afterBuildTicks:s=>{s.ticks=barTicks.map(v=>({value:v}));},
          afterFit:s=>{s.height=27;},
          grid:{drawOnChartArea:false,tickLength:3,tickWidth:0.8,
            tickColor:c=>barDecades.includes(c.tick&&c.tick.value)?'#222':'#666'},
          border:{display:false},
          ticks:{autoSkip:false,maxRotation:0,padding:2,color:'#444',font:{family:FONT,size:8},
            callback:v=>{const i=barDecades.indexOf(v);return i<0?'':barLabels[i];}},
          title:{display:true,text:barTitle,color:'#444',padding:0,font:{family:FONT,size:7.7,lineHeight:1.2}}
        }
      }
    },
    plugins:[frame]
  });
})();

// beam arrows
const NS='http://www.w3.org/2000/svg';
const svg=document.createElementNS(NS,'svg');
svg.setAttribute('width','796'); svg.setAttribute('height','453');
[[319.5,342.7,366.7,354],[745.7,769.3,793.3,779.5]].forEach(a=>{
  const path=document.createElementNS(NS,'polygon');
  path.setAttribute('points',`${a[0]},70 ${a[1]},54.5 ${a[1]},62 ${a[2]},62 ${a[2]},78 ${a[1]},78 ${a[1]},85.5`);
  path.setAttribute('fill','none'); path.setAttribute('stroke','#bde63c'); path.setAttribute('stroke-width','2');
  svg.appendChild(path);
  const t=document.createElementNS(NS,'text');
  t.setAttribute('x',a[3]); t.setAttribute('y','56'); t.setAttribute('fill','#bde63c');
  t.setAttribute('font-family',"'Open Sans', sans-serif"); t.setAttribute('font-size','20');
  t.textContent=beamLabel; svg.appendChild(t);
});
stage.appendChild(svg);
</script></body></html>
